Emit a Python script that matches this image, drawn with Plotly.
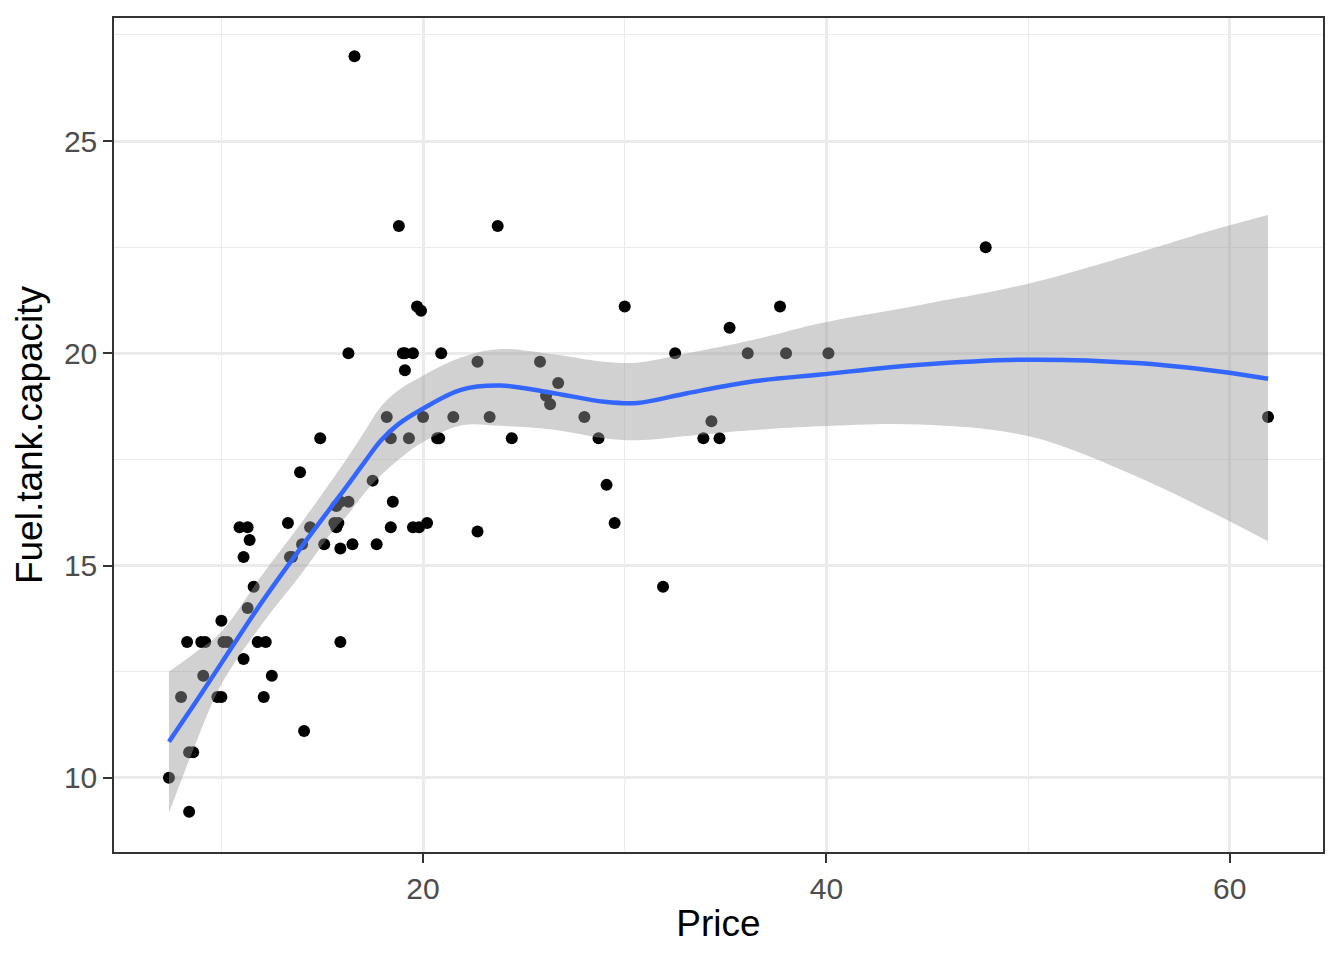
import plotly.graph_objects as go

# Cars93: Price vs Fuel.tank.capacity
price = [15.9, 33.9, 29.1, 37.7, 30.0, 15.7, 20.8, 23.7, 26.3, 34.7,
         40.1, 13.4, 11.4, 15.1, 15.9, 16.3, 16.6, 18.8, 38.0, 18.4,
         15.8, 29.5, 9.2, 11.3, 13.3, 19.0, 15.6, 25.8, 12.2, 19.3,
         7.4, 10.1, 11.3, 15.9, 14.0, 19.9, 20.2, 20.9, 8.4, 12.5,
         19.8, 12.1, 17.5, 8.0, 10.0, 10.0, 13.9, 47.9, 28.0, 35.2,
         34.3, 36.1, 8.3, 11.6, 16.5, 19.1, 32.5, 31.9, 61.9, 14.1,
         14.9, 10.3, 26.1, 11.8, 15.7, 19.1, 21.5, 13.5, 16.3, 19.5,
         20.7, 14.4, 9.0, 11.1, 17.7, 18.5, 24.4, 28.7, 11.1, 8.4,
         10.9, 19.5, 8.6, 9.8, 18.4, 18.2, 22.7, 9.1, 19.7, 20.0,
         23.3, 22.7, 26.7]
fuel = [13.2, 18.0, 16.9, 21.1, 21.1, 16.4, 18.0, 23.0, 18.8, 18.0,
        20.0, 15.2, 15.6, 15.5, 16.5, 20.0, 27.0, 23.0, 20.0, 18.0,
        16.0, 16.0, 13.2, 14.0, 16.0, 20.0, 16.0, 19.8, 13.2, 18.0,
        10.0, 13.2, 15.9, 15.4, 15.5, 21.0, 16.0, 20.0, 10.6, 12.4,
        15.9, 11.9, 17.0, 11.9, 13.7, 11.9, 17.2, 22.5, 18.5, 20.6,
        18.4, 20.0, 13.2, 14.5, 15.5, 19.6, 20.0, 14.5, 18.5, 11.1,
        18.0, 13.2, 19.0, 13.2, 15.9, 20.0, 18.5, 15.2, 16.5, 20.0,
        18.0, 15.9, 13.2, 15.2, 15.5, 16.5, 18.0, 18.0, 12.8, 9.2,
        15.9, 15.9, 10.6, 11.9, 15.9, 18.5, 19.8, 12.4, 21.1, 18.5,
        18.5, 15.8, 19.3]

# loess smooth
smooth_x = [7.4, 8.68, 10.0, 11.98, 13.96, 15.61, 16.27, 17.09, 17.92, 18.75,
            19.9, 21.88, 23.86, 26.5, 28.98, 30.63, 33.1, 36.4, 39.7, 44.65,
            50.1, 55.38, 59.5, 61.9]
smooth_fit = [10.85, 11.75, 12.7, 14.12, 15.43, 16.48, 16.9, 17.43, 17.95, 18.32,
              18.67, 19.14, 19.24, 19.06, 18.86, 18.83, 19.06, 19.34, 19.5, 19.73,
              19.85, 19.77, 19.57, 19.4]
smooth_hi = [12.5, 12.94, 13.44, 14.75, 16.0, 17.1, 17.55, 18.15, 18.75, 19.12,
             19.45, 19.9, 20.1, 19.97, 19.8, 19.78, 20.0, 20.32, 20.71, 21.14,
             21.65, 22.36, 22.95, 23.26]
smooth_lo = [9.17, 10.75, 12.2, 13.6, 14.8, 15.86, 16.2, 16.7, 17.13, 17.48,
             17.88, 18.3, 18.29, 18.2, 18.0, 17.95, 18.05, 18.19, 18.28, 18.32,
             18.04, 17.1, 16.16, 15.57]

FONT = "Liberation Sans, Arial, sans-serif"

fig = go.Figure()

fig.add_trace(go.Scatter(x=price, y=fuel, mode="markers",
                         marker=dict(color="black", size=12), showlegend=False))

# confidence band: lower edge, then upper edge filled down to it
fig.add_trace(go.Scatter(x=smooth_x, y=smooth_lo, mode="lines",
                         line=dict(width=0, shape="spline"),
                         hoverinfo="skip", showlegend=False))
fig.add_trace(go.Scatter(x=smooth_x, y=smooth_hi, mode="lines",
                         line=dict(width=0, shape="spline"),
                         fill="tonexty", fillcolor="rgba(153,153,153,0.45)",
                         hoverinfo="skip", showlegend=False))

fig.add_trace(go.Scatter(x=smooth_x, y=smooth_fit, mode="lines",
                         line=dict(color="#3366FF", width=4.5, shape="spline"),
                         showlegend=False))

axis_common = dict(
    showline=True, mirror=True, linecolor="#333333", linewidth=1.5,
    ticks="outside", ticklen=9, tickwidth=2, tickcolor="#333333",
    showgrid=True, gridcolor="#EBEBEB", gridwidth=2.5, zeroline=False,
    tickfont=dict(family=FONT, size=30, color="#4D4D4D"),
)

fig.update_xaxes(**axis_common, range=[4.675, 64.625], tick0=0, dtick=20,
                 minor=dict(dtick=10, showgrid=True, gridcolor="#EBEBEB", gridwidth=1.2),
                 title=dict(text="Price", standoff=6,
                            font=dict(family=FONT, size=37, color="black")))
fig.update_yaxes(**axis_common, range=[8.25, 27.9], tick0=0, dtick=5,
                 minor=dict(dtick=2.5, showgrid=True, gridcolor="#EBEBEB", gridwidth=1.2),
                 title=dict(text="Fuel.tank.capacity", standoff=10,
                            font=dict(family=FONT, size=37, color="black")))

# page body has an 8px margin, so the figure is a bit smaller and shifted
fig.update_layout(
    width=1328, height=944,
    margin=dict(l=106, r=13, t=10, b=100, autoexpand=False),
    plot_bgcolor="white", paper_bgcolor="white",
)

fig.write_html("out.html")
